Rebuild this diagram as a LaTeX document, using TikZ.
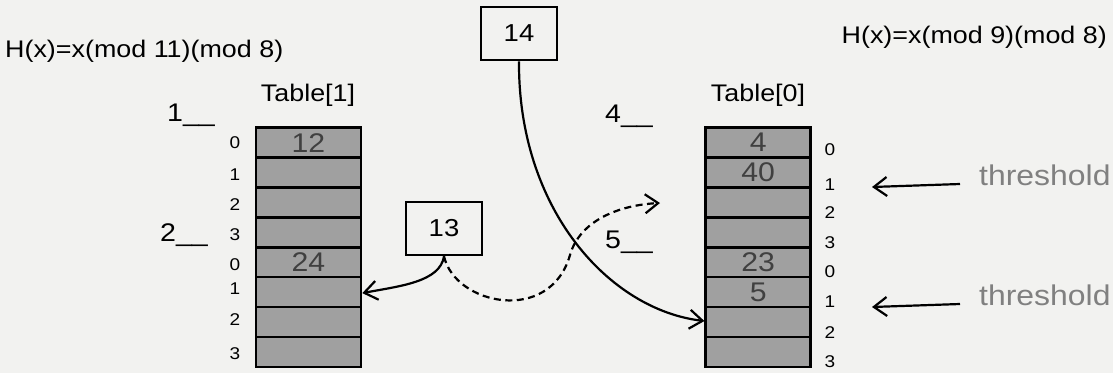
\documentclass[tikz,border=0pt]{standalone}
\usepackage{fontspec}
\setmainfont{Liberation Sans}[FakeStretch=1.12]
\usetikzlibrary{arrows.meta}
\definecolor{bgc}{HTML}{F2F2F0}
\definecolor{cellfill}{HTML}{A0A0A0}
\definecolor{celltext}{HTML}{404040}
\definecolor{softgray}{HTML}{808080}
\tikzset{
  cell/.style={draw=black, line width=2.6pt, fill=cellfill, minimum width=105pt,
    minimum height=29.9pt, inner sep=0pt, text=celltext,
    font=\fontsize{27}{27}\selectfont},
  idx/.style={font=\fontsize{17}{17}\selectfont, inner sep=0pt},
  lvl/.style={font=\fontsize{25.5}{25.5}\selectfont, inner sep=0pt, anchor=base west},
  ttl/.style={font=\fontsize{24}{24}\selectfont, inner sep=0pt},
  keybox/.style={draw=black, line width=2.6pt, fill=bgc, minimum width=76pt,
    minimum height=53pt, inner sep=0pt, font=\fontsize{24.5}{24.5}\selectfont},
  link/.style={line width=2.2pt, -{Straight Barb[length=13pt,width=19pt,line width=2.2pt]}},
  thr/.style={font=\fontsize{28.5}{28.5}\selectfont, text=softgray, inner sep=0pt, anchor=west}
}
\begin{document}
\begin{tikzpicture}[x=1pt,y=-1pt]
  \fill[bgc] (0,0) rectangle (1113,373);
  \useasboundingbox (0,0) rectangle (1113,373);

  % hash functions
  \node[ttl, anchor=west] (hleft) at (5,51) {H(x)=x(mod 11)(mod 8)};
  \node[ttl, anchor=east] (hright) at (1107,37) {H(x)=x(mod 9)(mod 8)};

  % table titles
  \node[ttl] (t1) at (308,95) {Table[1]};
  \node[ttl] (t0) at (758,95) {Table[0]};

  % left table
  \foreach \i/\v in {0/12,1/,2/,3/,4/24,5/,6/,7/}
    \node[cell] (L\i) at (308.5,{142.6+29.9*\i}) {\v};
  \foreach \i/\y/\n in {0/143/0,1/175/1,2/205/2,3/235/3,4/265/0,5/289/1,6/320/2,7/354/3}
    \node[idx] (li\i) at (235,\y) {\n};

  % right table
  \foreach \i/\v in {0/4,1/40,2/,3/,4/23,5/5,6/,7/}
    \node[cell] (R\i) at (758.2,{142.6+29.9*\i}) {\v};
  \foreach \i/\y/\n in {0/150/0,1/185/1,2/213/2,3/243/3,4/272/0,5/302/1,6/333/2,7/362/3}
    \node[idx] (ri\i) at (830,\y) {\n};

  % step labels
  \node[lvl] (s1) at (167,121) {1\_\_};
  \node[lvl] (s2) at (160,241) {2\_\_};
  \node[lvl] (s4) at (605,122) {4\_\_};
  \node[lvl] (s5) at (605,248) {5\_\_};

  % keys
  \node[keybox] (k14) at (519,33.5) {14};
  \node[keybox] (k13) at (444,228.5) {13};

  % insertion paths
  \draw[link] (k14.south) .. controls (518,210) and (610,310) .. ([yshift=1pt]R6.west);
  \draw[link] (k13.south) .. controls (440,282) and (400,286) .. ([yshift=-1pt]L5.east);
  \coordinate (dmid) at (570,255);
  \coordinate (dend) at (660,203);
  \draw[link, dash pattern=on 7pt off 4.5pt]
    (k13.south) .. controls (455,305) and (550,325) .. (dmid)
    .. controls (580,220) and (620,205) .. (dend);

  % thresholds
  \node[thr] (th1) at (979,175) {threshold};
  \node[thr] (th2) at (979,295) {threshold};
  \coordinate (a1s) at (960,184);
  \coordinate (a1e) at (872,187);
  \coordinate (a2s) at (960,304);
  \coordinate (a2e) at (872,307);
  \draw[link] (a1s) -- (a1e);
  \draw[link] (a2s) -- (a2e);
\end{tikzpicture}
\end{document}
